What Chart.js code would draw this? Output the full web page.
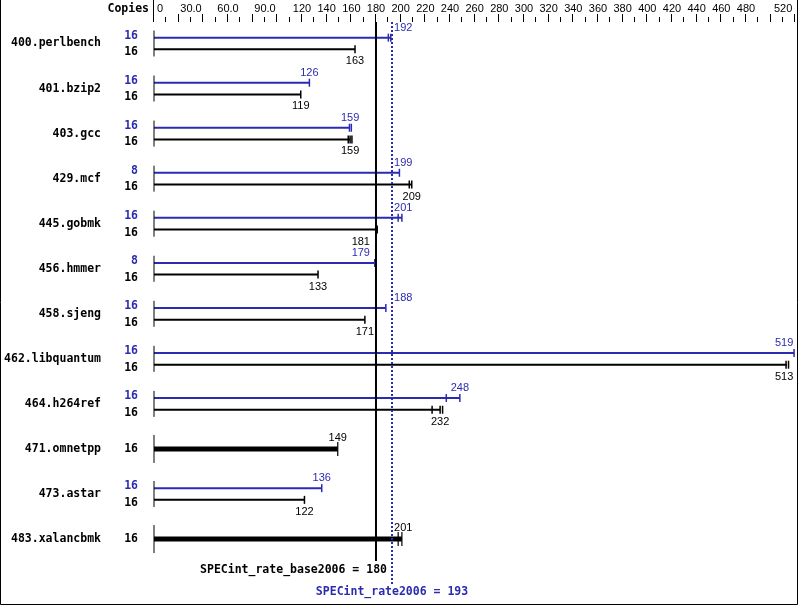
<!DOCTYPE html>
<html>
<head>
<meta charset="utf-8">
<script src="https://cdn.jsdelivr.net/npm/chart.js@4.4.1/dist/chart.umd.min.js"></script>
<style>
    body { margin: 0; background: #fff; }
    canvas { display: block; }
</style>
</head>
<body>
<canvas id="chart" width="799" height="606"></canvas>
<script>

// benchmark rows, top to bottom
let benchmarks = ["400.perlbench", "401.bzip2", "403.gcc", "429.mcf", "445.gobmk", "456.hmmer",
    "458.sjeng", "462.libquantum", "464.h264ref", "471.omnetpp", "473.astar", "483.xalancbmk"];

let baseCopies = [16, 16, 16, 16, 16, 16, 16, 16, 16, 16, 16, 16];
let peakCopies = [16, 16, 16, 8, 16, 8, 16, 16, 16, null, 16, null];

// median ratios (bar length + label)
let baseValues = [163, 119, 159, 209, 181, 133, 171, 513, 232, 149, 122, 201];
let peakValues = [192, 126, 159, 199, 201, 179, 188, 519, 248, null, 136, null];

// individual run ratios (little tick marks)
let baseRuns = [[163], [119], [157.5, 159, 160.5], [207, 209], [181], [133], [171],
    [512.5, 514.5], [225.5, 232, 234], [149], [122], [198, 201]];
let peakRuns = [[190, 192], [126], [158.5, 160], [199], [198, 201], [179], [188],
    [519], [237, 248], null, [136], null];

let xTickValues = [0, 30, 60, 90, 120, 140, 160, 180, 200, 220, 240, 260, 280, 300, 320, 340,
    360, 380, 400, 420, 440, 460, 480, 520];

let baseMean = 180;
let peakMean = 193;

const BLUE = "#2b2bb0";
const BLACK = "#000000";
const MONO = "'DejaVu Sans Mono', monospace";
const SANS = "'Liberation Sans', Arial, sans-serif";
const OFF = 0.13; // half gap between peak and base bar, in row units

function single(i) {
    return peakValues[i] === null;
}

let datasets = [];

// left start line of every row
datasets.push({
    type: "scatter",
    data: benchmarks.map((b, i) => ({ x: 0, y: i })),
    pointStyle: "line",
    rotation: 90,
    pointRadius: benchmarks.map((b, i) => single(i) ? 14 : 13),
    borderColor: BLACK,
    pointBorderWidth: 1,
    clip: false
});

benchmarks.forEach((b, i) => {
    if (single(i)) {
        datasets.push({
            type: "scatter",
            showLine: true,
            data: [{ x: 0, y: i }, { x: baseValues[i], y: i }],
            borderColor: BLACK,
            borderWidth: 5,
            pointRadius: 0,
            clip: false
        });
        datasets.push({
            type: "scatter",
            data: baseRuns[i].map(v => ({ x: v, y: i })),
            pointStyle: "line",
            rotation: 90,
            pointRadius: 7,
            borderColor: BLACK,
            pointBorderWidth: 1.2,
            clip: false
        });
        return;
    }
    [["peak", peakValues, peakRuns, BLUE, -OFF], ["base", baseValues, baseRuns, BLACK, OFF]]
        .forEach(([name, vals, runs, color, dy]) => {
            datasets.push({
                type: "scatter",
                showLine: true,
                data: [{ x: 0, y: i + dy }, { x: vals[i], y: i + dy }],
                borderColor: color,
                borderWidth: 2,
                pointRadius: 0,
                clip: false
            });
            datasets.push({
                type: "scatter",
                data: runs[i].map(v => ({ x: v, y: i + dy })),
                pointStyle: "line",
                rotation: 90,
                pointRadius: 4,
                borderColor: color,
                pointBorderWidth: 1.5,
                clip: false
            });
        });
});

const specPlugin = {
    id: "spec",
    afterDatasetsDraw(chart) {
        let ctx = chart.ctx;
        let xs = chart.scales.x;
        let ys = chart.scales.y;
        let area = chart.chartArea;
        let x0 = xs.getPixelForValue(0);
        let xB = xs.getPixelForValue(baseMean);
        let xP = xs.getPixelForValue(peakMean);

        ctx.save();

        // reference lines
        ctx.strokeStyle = BLACK;
        ctx.lineWidth = 2;
        ctx.beginPath();
        ctx.moveTo(xB, area.top);
        ctx.lineTo(xB, area.bottom - 24);
        ctx.stroke();

        ctx.strokeStyle = BLUE;
        ctx.setLineDash([2, 2]);
        ctx.beginPath();
        ctx.moveTo(xP, area.top);
        ctx.lineTo(xP, area.bottom);
        ctx.stroke();
        ctx.setLineDash([]);

        // top axis
        ctx.strokeStyle = BLACK;
        ctx.lineWidth = 1;
        ctx.beginPath();
        ctx.moveTo(Math.round(x0) - 0.5, 0);
        ctx.lineTo(Math.round(x0) - 0.5, area.top);
        for (let v = 10; v <= 520; v += 10) {
            let px = Math.round(xs.getPixelForValue(v)) - 0.5;
            ctx.moveTo(px, v % 20 === 0 ? 14 : 17);
            ctx.lineTo(px, area.top);
        }
        ctx.stroke();

        ctx.fillStyle = BLACK;
        ctx.textBaseline = "middle";
        ctx.font = "11px " + SANS;
        xTickValues.forEach((v, k) => {
            let txt = (v > 0 && v < 100) ? v.toFixed(1) : String(v);
            let px = xs.getPixelForValue(v);
            if (k === 0) {
                ctx.textAlign = "left";
                ctx.fillText(txt, px + 3, 9);
            } else if (k === xTickValues.length - 1) {
                ctx.textAlign = "right";
                ctx.fillText(txt, area.right - 3, 9);
            } else {
                ctx.textAlign = "center";
                ctx.fillText(txt, px, 9);
            }
        });

        ctx.font = "bold 11.5px " + MONO;
        ctx.textAlign = "right";
        ctx.fillText("Copies", x0 - 5, 9);

        // row names and copies
        benchmarks.forEach((b, i) => {
            let yc = ys.getPixelForValue(i);
            ctx.font = "bold 11.5px " + MONO;
            ctx.textAlign = "right";
            ctx.fillStyle = BLACK;
            ctx.fillText(b, 101, yc);
            if (single(i)) {
                ctx.fillText(String(baseCopies[i]), 138, yc);
            } else {
                ctx.fillStyle = BLUE;
                ctx.fillText(String(peakCopies[i]), 138, ys.getPixelForValue(i - OFF) - 2);
                ctx.fillStyle = BLACK;
                ctx.fillText(String(baseCopies[i]), 138, ys.getPixelForValue(i + OFF) + 3);
            }
        });

        // value labels
        ctx.font = "11px " + SANS;
        ctx.textAlign = "left";
        function valueLabel(v, y, color) {
            let txt = String(v);
            let w = ctx.measureText(txt).width;
            let xe = xs.getPixelForValue(v);
            let left = xe - w / 2;
            let hits = (xl) => left < xl + 1 && left + w > xl - 1;
            if (hits(xB) || hits(xP)) {
                left = xe > (xB + xP) / 2 ? xP + 2 : xB - 6 - w;
            }
            if (left + w > area.right - 2) left = area.right - 2 - w;
            ctx.fillStyle = color;
            ctx.fillText(txt, left, y);
        }
        benchmarks.forEach((b, i) => {
            if (single(i)) {
                valueLabel(baseValues[i], ys.getPixelForValue(i) - 11, BLACK);
            } else {
                valueLabel(peakValues[i], ys.getPixelForValue(i - OFF) - 10, BLUE);
                valueLabel(baseValues[i], ys.getPixelForValue(i + OFF) + 12, BLACK);
            }
        });

        // summary
        ctx.font = "bold 11.5px " + MONO;
        ctx.fillStyle = BLACK;
        ctx.textAlign = "right";
        ctx.fillText("SPECint_rate_base2006 = " + baseMean, xB + 11, 570);
        ctx.fillStyle = BLUE;
        ctx.textAlign = "center";
        ctx.fillText("SPECint_rate2006 = " + peakMean, xP, 592);

        // frame
        ctx.strokeStyle = BLACK;
        ctx.lineWidth = 1;
        ctx.beginPath();
        ctx.moveTo(0.5, 0);
        ctx.lineTo(0.5, chart.height - 1.5);
        ctx.lineTo(chart.width - 1.5, chart.height - 1.5);
        ctx.lineTo(chart.width - 1.5, 0);
        ctx.stroke();

        ctx.restore();
    }
};

let chart = new Chart(document.getElementById("chart").getContext("2d"), {
    type: "scatter",
    data: { datasets: datasets },
    options: {
        responsive: false,
        animation: false,
        devicePixelRatio: 1,
        layout: {
            autoPadding: false,
            padding: { left: 154, right: 799 - 795.3, top: 22, bottom: 21 }
        },
        plugins: {
            legend: { display: false },
            tooltip: { enabled: false }
        },
        scales: {
            x: { type: "linear", display: false, min: 0, max: 520 },
            y: { type: "linear", display: false, reverse: true, min: -0.477, max: 12.02 }
        }
    },
    plugins: [specPlugin]
});

</script>
</body>
</html>
